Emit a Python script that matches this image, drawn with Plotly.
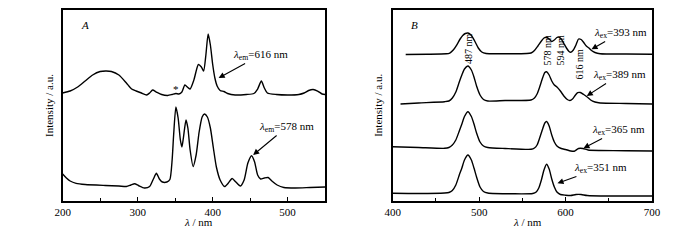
import plotly.graph_objects as go

# ---------------- Panel A: excitation spectra ----------------
a_em616_nm = [200, 210, 220, 230, 240, 250, 258, 265, 275, 285, 292, 298, 305, 312, 316, 320, 325, 332,
              340, 346, 351, 355, 359, 363, 367, 370, 375, 381, 385, 388, 391, 394, 397, 400, 403, 406,
              410, 415, 420, 430, 445, 455, 460, 465, 469, 473, 485, 500, 515, 522, 528, 534, 540, 546, 550]
a_em616_int = [108, 110, 114, 120, 126, 129.5, 130, 129.5, 126, 118, 112, 110, 108, 106, 108, 111, 109, 106.5,
               105.5, 106.5, 107.5, 107, 109, 116, 113.5, 112, 121, 136.5, 134, 130, 146, 167, 156, 137, 123, 115,
               110.5, 109.5, 107.5, 106, 106.5, 107.5, 112, 120, 113, 108, 106.5, 106, 106.5, 108, 110.5, 111.5, 110, 107, 106.5]

a_em578_nm = [200, 205, 210, 218, 230, 257, 275, 285, 291, 296, 301, 309, 316, 321, 325, 329, 333, 339, 343,
              346, 348, 351, 354, 357, 359, 361, 364.5, 367, 370, 374, 378, 382, 386, 389, 393, 397, 401, 405,
              410, 416, 421, 426, 431, 437, 442, 447, 452, 456, 460, 464, 469, 474, 479, 486, 495, 510, 530, 550]
a_em578_int = [27, 23, 20, 17.7, 16.5, 15.5, 15, 14.5, 16, 17.2, 15.5, 13, 14.5, 22, 27.7, 22, 19, 19, 21.5,
               41, 66, 94, 83, 61, 54, 63, 81, 73, 51, 34.5, 46, 69, 84, 87, 84, 73, 53, 34,
               21, 14.5, 18, 22.5, 19, 15, 21, 38, 45.3, 39, 26, 22, 23, 23.5, 20, 16, 13.5, 13, 13.5, 14]

# ---------------- Panel B: emission spectra ----------------
b_ex393_nm = [415, 440, 462, 466, 470, 474, 478, 481, 484, 487, 490, 493, 496, 499, 503, 508, 530, 555, 560,
              564, 568, 572, 575, 578, 581, 584, 587, 590, 592, 595, 598, 601, 604, 606, 609, 612, 615, 618,
              621, 624, 627, 630, 634, 640, 670, 700]
b_ex393_int = [146.5, 146.7, 147.2, 148, 151, 156, 162, 165.5, 167.5, 168, 166.5, 163, 158, 153, 149, 147.5, 147.3,
               147.5, 148, 150.5, 155, 160, 163, 163.8, 162, 159.5, 161, 163.5, 164, 162, 157.5, 153, 149.5,
               148.8, 151, 156, 162, 161.5, 158.5, 155, 153, 150.5, 148.5, 147.3, 147, 146.8]

b_ex389_nm = [409, 430, 460, 465, 469, 473, 477, 480, 483, 487, 491, 494, 497, 501, 505, 510, 530, 560, 564,
              567, 570, 573, 576, 578, 581, 584, 587, 590, 594, 598, 602, 605, 608, 611, 614, 617, 621, 625,
              629, 634, 640, 670, 700]
b_ex389_int = [97, 98, 99.3, 100, 103, 109, 119, 126, 132, 135, 131, 124, 115, 106, 101.5, 100, 100.5, 101, 103,
               107, 114, 122, 128.5, 129.3, 126, 120, 116, 114, 110, 105, 101.5, 100.5, 102, 105.5, 108.3, 108.5,
               106.5, 104, 101, 99, 98, 97.5, 97]

b_ex365_nm = [400, 430, 460, 465, 469, 473, 477, 480, 483, 487, 491, 494, 497, 501, 505, 510, 530, 560, 564,
              567, 570, 573, 576, 578, 581, 584, 587, 590, 595, 600, 606, 610, 615, 620, 626, 640, 670, 700]
b_ex365_int = [54.3, 53.5, 52.7, 53.5, 56, 61, 70, 77, 84.5, 89.3, 84.5, 77, 68, 59, 55, 53.5, 52.5, 51.7, 53,
               56, 63, 71, 78, 79.5, 75, 66, 59, 55, 52.5, 51.5, 50, 49.8, 52.5, 52.5, 51, 50.5, 50.3, 50]

b_ex351_nm = [400, 430, 460, 465, 469, 473, 477, 480, 483, 487, 491, 494, 497, 501, 505, 510, 540, 562, 566,
              569, 572, 575, 578, 581, 584, 587, 590, 594, 600, 606, 612, 618, 625, 650, 700]
b_ex351_int = [7.7, 7.5, 8, 8.5, 10.5, 16, 26, 33, 41, 46, 41, 33, 24, 14, 9.5, 8, 7.2, 7.5, 9,
               13, 21, 31, 36.7, 32, 22, 14, 9, 6.5, 5.8, 5.5, 6.5, 6.5, 5.5, 5, 5]

a_ticks = [200, 300, 400, 500]
b_ticks = [400, 500, 600, 700]

FONT = "Liberation Serif"
line_style = dict(color="black", width=1.4, shape="spline", smoothing=0.6)

fig = go.Figure()
for xs, ys in [(a_em616_nm, a_em616_int), (a_em578_nm, a_em578_int)]:
    fig.add_trace(go.Scatter(x=xs, y=ys, mode="lines", line=line_style, xaxis="x", yaxis="y",
                             showlegend=False, hoverinfo="skip"))
for xs, ys in [(b_ex393_nm, b_ex393_int), (b_ex389_nm, b_ex389_int),
               (b_ex365_nm, b_ex365_int), (b_ex351_nm, b_ex351_int)]:
    fig.add_trace(go.Scatter(x=xs, y=ys, mode="lines", line=line_style, xaxis="x2", yaxis="y2",
                             showlegend=False, hoverinfo="skip"))

xa_common = dict(showline=True, mirror=True, linecolor="black", linewidth=1.5, ticks="inside",
                 ticklen=4, tickwidth=1, tickcolor="black", showgrid=False, zeroline=False,
                 tickfont=dict(family=FONT, size=11, color="black"),
                 minor=dict(ticks="inside", ticklen=3, tickcolor="black", dtick=50, showgrid=False))
ya_common = dict(showline=True, mirror=True, linecolor="black", linewidth=1.5, ticks="",
                 showticklabels=False, showgrid=False, zeroline=False, range=[0, 191.5])

fig.update_layout(
    width=700, height=240, margin=dict(l=0, r=0, t=0, b=0),
    paper_bgcolor="white", plot_bgcolor="white",
    xaxis=dict(domain=[0.08, 0.4643], range=[200, 550], tickvals=a_ticks, anchor="y", **xa_common),
    yaxis=dict(domain=[0.1625, 0.9604], anchor="x", **ya_common),
    xaxis2=dict(domain=[0.5633, 0.9429], range=[400, 700], tickvals=b_ticks, anchor="y2", **xa_common),
    yaxis2=dict(domain=[0.1625, 0.9604], anchor="x2", **ya_common),
)

ann = []
tf = dict(family=FONT, size=11, color="black")

def callout(xr, yr, tx, ty, hx, hy, text):
    # text centred at (tx, ty); arrow drawn from the text box edge to the head (hx, hy)
    ann.append(dict(xref=xr, yref=yr, axref=xr, ayref=yr, x=hx, y=hy, ax=tx, ay=ty, text=text,
                    showarrow=True, arrowhead=2, arrowsize=1.1, arrowwidth=1.1, arrowcolor="black",
                    font=tf, borderpad=1))

def label(xr, yr, x, y, text, size=11, angle=0):
    ann.append(dict(xref=xr, yref=yr, x=x, y=y, text=text, showarrow=False, textangle=angle,
                    font=dict(family=FONT, size=size, color="black"), xanchor="center", yanchor="middle"))

# Panel A labels
label("x", "y", 230, 176, "<i>A</i>")
callout("x", "y", 464, 146, 408, 123, "<i>λ</i><sub>em</sub>=616 nm")
label("x", "y", 351.5, 112, "*", size=11)
callout("x", "y", 499, 74, 454, 46, "<i>λ</i><sub>em</sub>=578 nm")

# Panel B labels
label("x2", "y2", 425, 176, "<i>B</i>")
callout("x2", "y2", 663, 168, 630, 151.7, "<i>λ</i><sub>ex</sub>=393 nm")
callout("x2", "y2", 662, 126, 624.5, 105, "<i>λ</i><sub>ex</sub>=389 nm")
callout("x2", "y2", 661, 71, 620.7, 52.7, "<i>λ</i><sub>ex</sub>=365 nm")
callout("x2", "y2", 640, 33, 590.6, 17.7, "<i>λ</i><sub>ex</sub>=351 nm")
label("x2", "y2", 487, 153, "487 nm", size=10, angle=-90)
label("x2", "y2", 579, 151, "578 nm", size=10, angle=-90)
label("x2", "y2", 594, 151, "594 nm", size=10, angle=-90)
label("x2", "y2", 615, 137, "616 nm", size=10, angle=-90)

# Axis titles
for xp in [42 / 700, 379 / 700]:
    ann.append(dict(xref="paper", yref="paper", x=xp, y=1 - 105 / 240, text="Intensity / a.u.",
                    textangle=-90, showarrow=False, font=tf, xanchor="center", yanchor="middle"))
for xp in [195 / 700, 532.5 / 700]:
    ann.append(dict(xref="paper", yref="paper", x=xp, y=1 - 222 / 240, text="<i>λ</i> / nm",
                    showarrow=False, font=tf, xanchor="center", yanchor="middle"))

fig.update_layout(annotations=ann)
fig.write_html("out.html", config={"displayModeBar": False},
               post_script="document.body.style.margin='0';document.body.style.overflow='hidden';")
